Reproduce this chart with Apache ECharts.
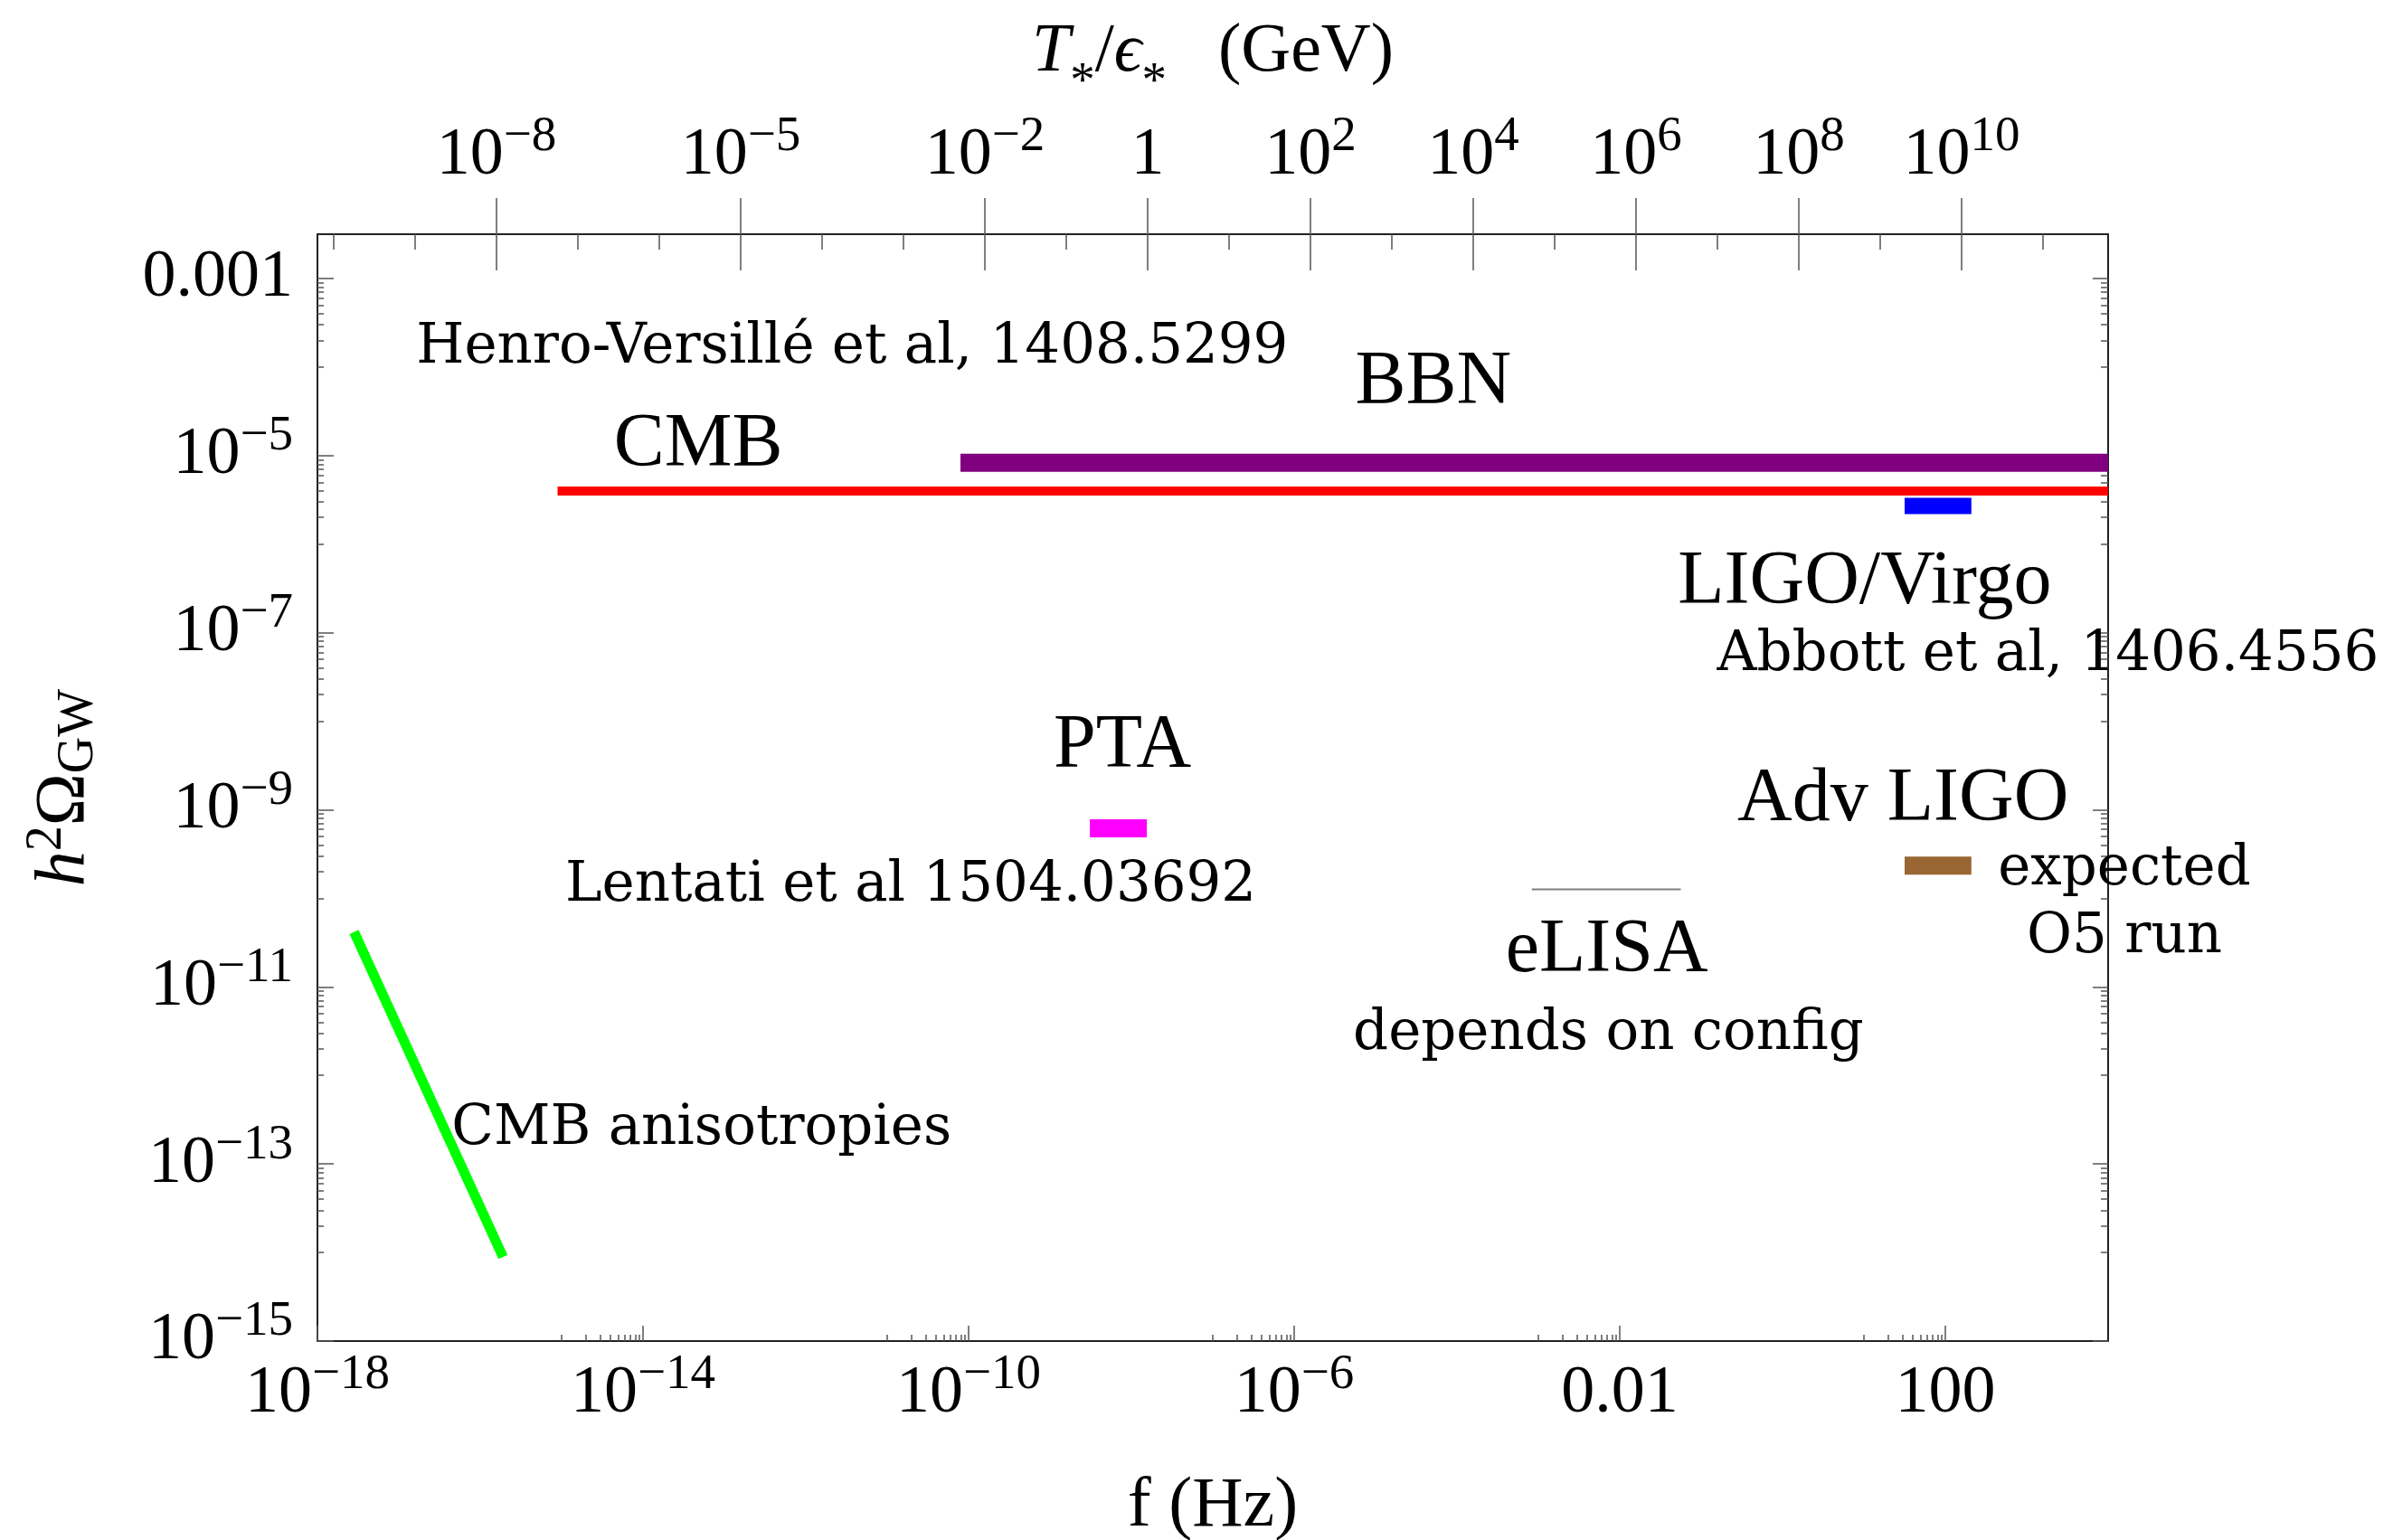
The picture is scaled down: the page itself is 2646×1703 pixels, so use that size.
<!DOCTYPE html>
<html>
<head>
<meta charset="utf-8">
<script src="https://cdn.jsdelivr.net/npm/echarts@6/dist/echarts.min.js"></script>
<style>
  html, body { margin: 0; padding: 0; background: #ffffff; }
  #chart { width: 2646px; height: 1703px; }
</style>
</head>
<body>
<div id="chart"></div>
<script>
// Everything is plotted in decades: x = log10(f / Hz), y = log10(h^2 Omega_GW).

// ---- tick labels -------------------------------------------------------
const fMajor = [-18, -14, -10, -6, -2, 2];
const fMajorText = ['10^−18', '10^−14', '10^−10', '10^−6', '0.01', '100'];

const tMajor = [-8, -5, -2, 0, 2, 4, 6, 8, 10];
const tMajorText = ['10^−8', '10^−5', '10^−2', '1', '10^2', '10^4', '10^6', '10^8', '10^10'];

const omegaMajor = [-15, -13, -11, -9, -7, -5, -3];
const omegaMajorText = ['10^−15', '10^−13', '10^−11', '10^−9', '10^−7', '10^−5', '0.001'];

// T_*/eps_* in GeV corresponds to f * 10^7.8 Hz^-1
const tOffset = 7.8;

// ---- bounds and sensitivities: [log10 f, log10 h^2 Omega] ---------------
const cmbBound   = [[-15.05, -5.40], [4.0, -5.40]];
const bbnBound   = [[-10.10, -5.08], [4.0, -5.08]];
const ligoVirgo  = [[1.50, -5.57], [2.32, -5.57]];
const advLigoO5  = [[1.50, -9.63], [2.32, -9.63]];
const ptaBound   = [[-8.51, -9.21], [-7.81, -9.21]];
const elisa      = [[-3.08, -9.90], [-1.25, -9.90]];
const cmbAniso   = [[-17.55, -10.38], [-15.72, -14.05]];

// ---- annotations: [log10 f, log10 h^2 Omega, text] ----------------------
const headLabels = [
  [-13.32, -4.89, 'CMB'],
  [-4.29, -4.18, 'BBN'],
  [1.01, -6.44, 'LIGO/Virgo'],
  [-8.11, -8.29, 'PTA'],
  [1.48, -8.89, 'Adv LIGO'],
  [-2.16, -10.60, 'eLISA']
];
const noteLabels = [
  [-11.43, -3.79, 'Henro-Versillé et al, 1408.5299'],
  [3.26, -7.26, 'Abbott et al, 1406.4556'],
  [-10.71, -9.86, 'Lentati et al 1504.03692'],
  [4.20, -9.68, 'expected'],
  [4.20, -10.45, 'O5 run'],
  [-2.14, -11.54, 'depends on config'],
  [-13.28, -12.61, 'CMB anisotropies']
];

// ---- helpers -----------------------------------------------------------
const SERIF = "'Liberation Serif', 'Times New Roman', serif";
const NOTE_SERIF = "'DejaVu Serif', 'Liberation Serif', serif";
const FRAME = '#222222';
const TICK = '#555555';

const F_MIN = -18, F_MAX = 4;
const O_MIN = -15, O_MAX = -2.5;

function richTick(txt) {
  const i = txt.indexOf('^');
  return i < 0 ? '{b|' + txt + '}' : '{b|' + txt.slice(0, i) + '}{s|' + txt.slice(i + 1) + '}';
}
function labelLookup(values, texts) {
  return function (v) {
    const i = values.findIndex(m => Math.abs(m - v) < 1e-6);
    return i < 0 ? '' : richTick(texts[i]);
  };
}
// minor ticks 1..9 x 10^(M-1) in the decade just below each labelled power
function minorBelow(majors, lo, hi) {
  const out = [];
  majors.forEach(M => {
    for (let k = 1; k <= 9; k++) {
      const v = M - 1 + Math.log10(k);
      if (v >= lo - 1e-9 && v <= hi + 1e-9) out.push(v);
    }
  });
  return out;
}
function integersIn(lo, hi) {
  const out = [];
  for (let v = Math.ceil(lo); v <= Math.floor(hi); v++) out.push(v);
  return out;
}
function tickRich(mainLineHeight) {
  return {
    b: { fontFamily: SERIF, fontSize: 74, lineHeight: mainLineHeight, color: '#000' },
    s: { fontFamily: SERIF, fontSize: 55, lineHeight: 55, padding: [0, 0, 42, 0], color: '#000' }
  };
}
function axis(extra) {
  return Object.assign({
    type: 'value',
    splitLine: { show: false },
    axisLine: { show: false, onZero: false },
    axisTick: { show: false },
    axisLabel: { show: false },
    axisPointer: { show: false }
  }, extra);
}
function ticks(values, length, inside, width) {
  return { show: true, inside: inside, length: length, customValues: values,
           lineStyle: { color: TICK, width: width || 1.5 } };
}
const frameLine = { show: true, onZero: false, lineStyle: { color: FRAME, width: 2 } };

function segment(name, data, color, width) {
  return {
    name: name, type: 'line', data: data, xAxisIndex: 0, yAxisIndex: 0,
    symbol: 'none', showSymbol: false, silent: true, z: 3,
    lineStyle: { color: color, width: width, cap: 'butt' }
  };
}
function textLayer(rows, family, size) {
  return {
    type: 'scatter', xAxisIndex: 0, yAxisIndex: 0, clip: false, silent: true, z: 5,
    symbolSize: 1, itemStyle: { color: 'rgba(0,0,0,0)', opacity: 1 },
    data: rows.map(r => ({ value: [r[0], r[1]], name: r[2] })),
    label: { show: true, position: 'inside', formatter: '{b}', opacity: 1,
             fontFamily: family, fontSize: size, color: '#000000',
             textBorderWidth: 0 }
  };
}

// ---- chart ---------------------------------------------------------------
const chart = echarts.init(document.getElementById('chart'), null, { renderer: 'canvas' });

chart.setOption({
  animation: false,
  backgroundColor: '#ffffff',
  grid: { left: 351, top: 259, width: 1980, height: 1224, containLabel: false, outerBoundsMode: 'none' },
  xAxis: [
    axis({
      position: 'bottom', min: F_MIN, max: F_MAX,
      axisLine: frameLine,
      axisTick: ticks(fMajor, 17, true),
      axisLabel: { show: true, customValues: fMajor, margin: 22,
                   formatter: labelLookup(fMajor, fMajorText), rich: tickRich(74) },
      name: 'f (Hz)', nameLocation: 'middle', nameGap: 145,
      nameTextStyle: { fontFamily: SERIF, fontSize: 78, color: '#000' }
    }),
    axis({
      position: 'bottom', min: F_MIN, max: F_MAX,
      axisTick: ticks(minorBelow(fMajor, F_MIN, F_MAX), 7, true)
    }),
    axis({
      position: 'top', min: F_MIN + tOffset, max: F_MAX + tOffset,
      axisLine: frameLine,
      axisTick: ticks(tMajor, 40, true)
    }),
    axis({
      position: 'top', min: F_MIN + tOffset, max: F_MAX + tOffset,
      axisTick: ticks(tMajor, 40, false),
      axisLabel: { show: true, customValues: tMajor, margin: 38,
                   formatter: labelLookup(tMajor, tMajorText), rich: tickRich(97) },
      name: '{ti|T}{sb|*}{n|/}{ti|ϵ}{sb|*}{n|   (GeV)}',
      nameLocation: 'middle', nameGap: 154,
      nameTextStyle: {
        rich: {
          ti: { fontFamily: "'Liberation Serif', 'DejaVu Serif', serif", fontStyle: 'italic', fontSize: 76, color: '#000' },
          n:  { fontFamily: SERIF, fontSize: 76, color: '#000' },
          sb: { fontFamily: SERIF, fontSize: 55, lineHeight: 55, padding: [68, 0, 0, 0], color: '#000' }
        }
      }
    }),
    axis({
      position: 'top', min: F_MIN + tOffset, max: F_MAX + tOffset,
      axisTick: ticks(integersIn(F_MIN + tOffset, F_MAX + tOffset), 17, true)
    })
  ],
  yAxis: [
    axis({
      position: 'left', min: O_MIN, max: O_MAX,
      axisLine: frameLine,
      axisTick: ticks(omegaMajor, 18, true),
      axisLabel: { show: true, customValues: omegaMajor, margin: 27,
                   formatter: labelLookup(omegaMajor, omegaMajorText), rich: tickRich(74) },
      name: '{i|h}{sp|2}{o|Ω}{sb|GW}',
      nameLocation: 'middle', nameGap: 240, nameRotate: 90,
      nameTextStyle: {
        rich: {
          i:  { fontFamily: SERIF, fontStyle: 'italic', fontSize: 78, color: '#000' },
          o:  { fontFamily: SERIF, fontSize: 78, color: '#000' },
          sp: { fontFamily: SERIF, fontSize: 56, lineHeight: 56, padding: [0, 0, 40, 0], color: '#000' },
          sb: { fontFamily: SERIF, fontSize: 56, lineHeight: 56, padding: [30, 0, 0, 0], color: '#000' }
        }
      }
    }),
    axis({
      position: 'left', min: O_MIN, max: O_MAX,
      axisTick: ticks(minorBelow(omegaMajor, O_MIN, O_MAX), 7, true)
    }),
    axis({
      position: 'right', min: O_MIN, max: O_MAX,
      axisLine: frameLine,
      axisTick: ticks(omegaMajor, 17, true)
    }),
    axis({
      position: 'right', min: O_MIN, max: O_MAX,
      axisTick: ticks(minorBelow(omegaMajor, O_MIN, O_MAX), 8, true)
    })
  ],
  series: [
    segment('CMB', cmbBound, '#ff0000', 10),
    segment('BBN', bbnBound, '#800080', 20),
    segment('LIGO/Virgo', ligoVirgo, '#0000ff', 18),
    segment('Adv LIGO O5', advLigoO5, '#996633', 20),
    segment('PTA', ptaBound, '#ff00ff', 20),
    segment('eLISA', elisa, '#808080', 2),
    segment('CMB anisotropies', cmbAniso, '#00ff00', 11),
    textLayer(headLabels, SERIF, 84),
    textLayer(noteLabels, NOTE_SERIF, 61)
  ]
});
</script>
</body>
</html>
